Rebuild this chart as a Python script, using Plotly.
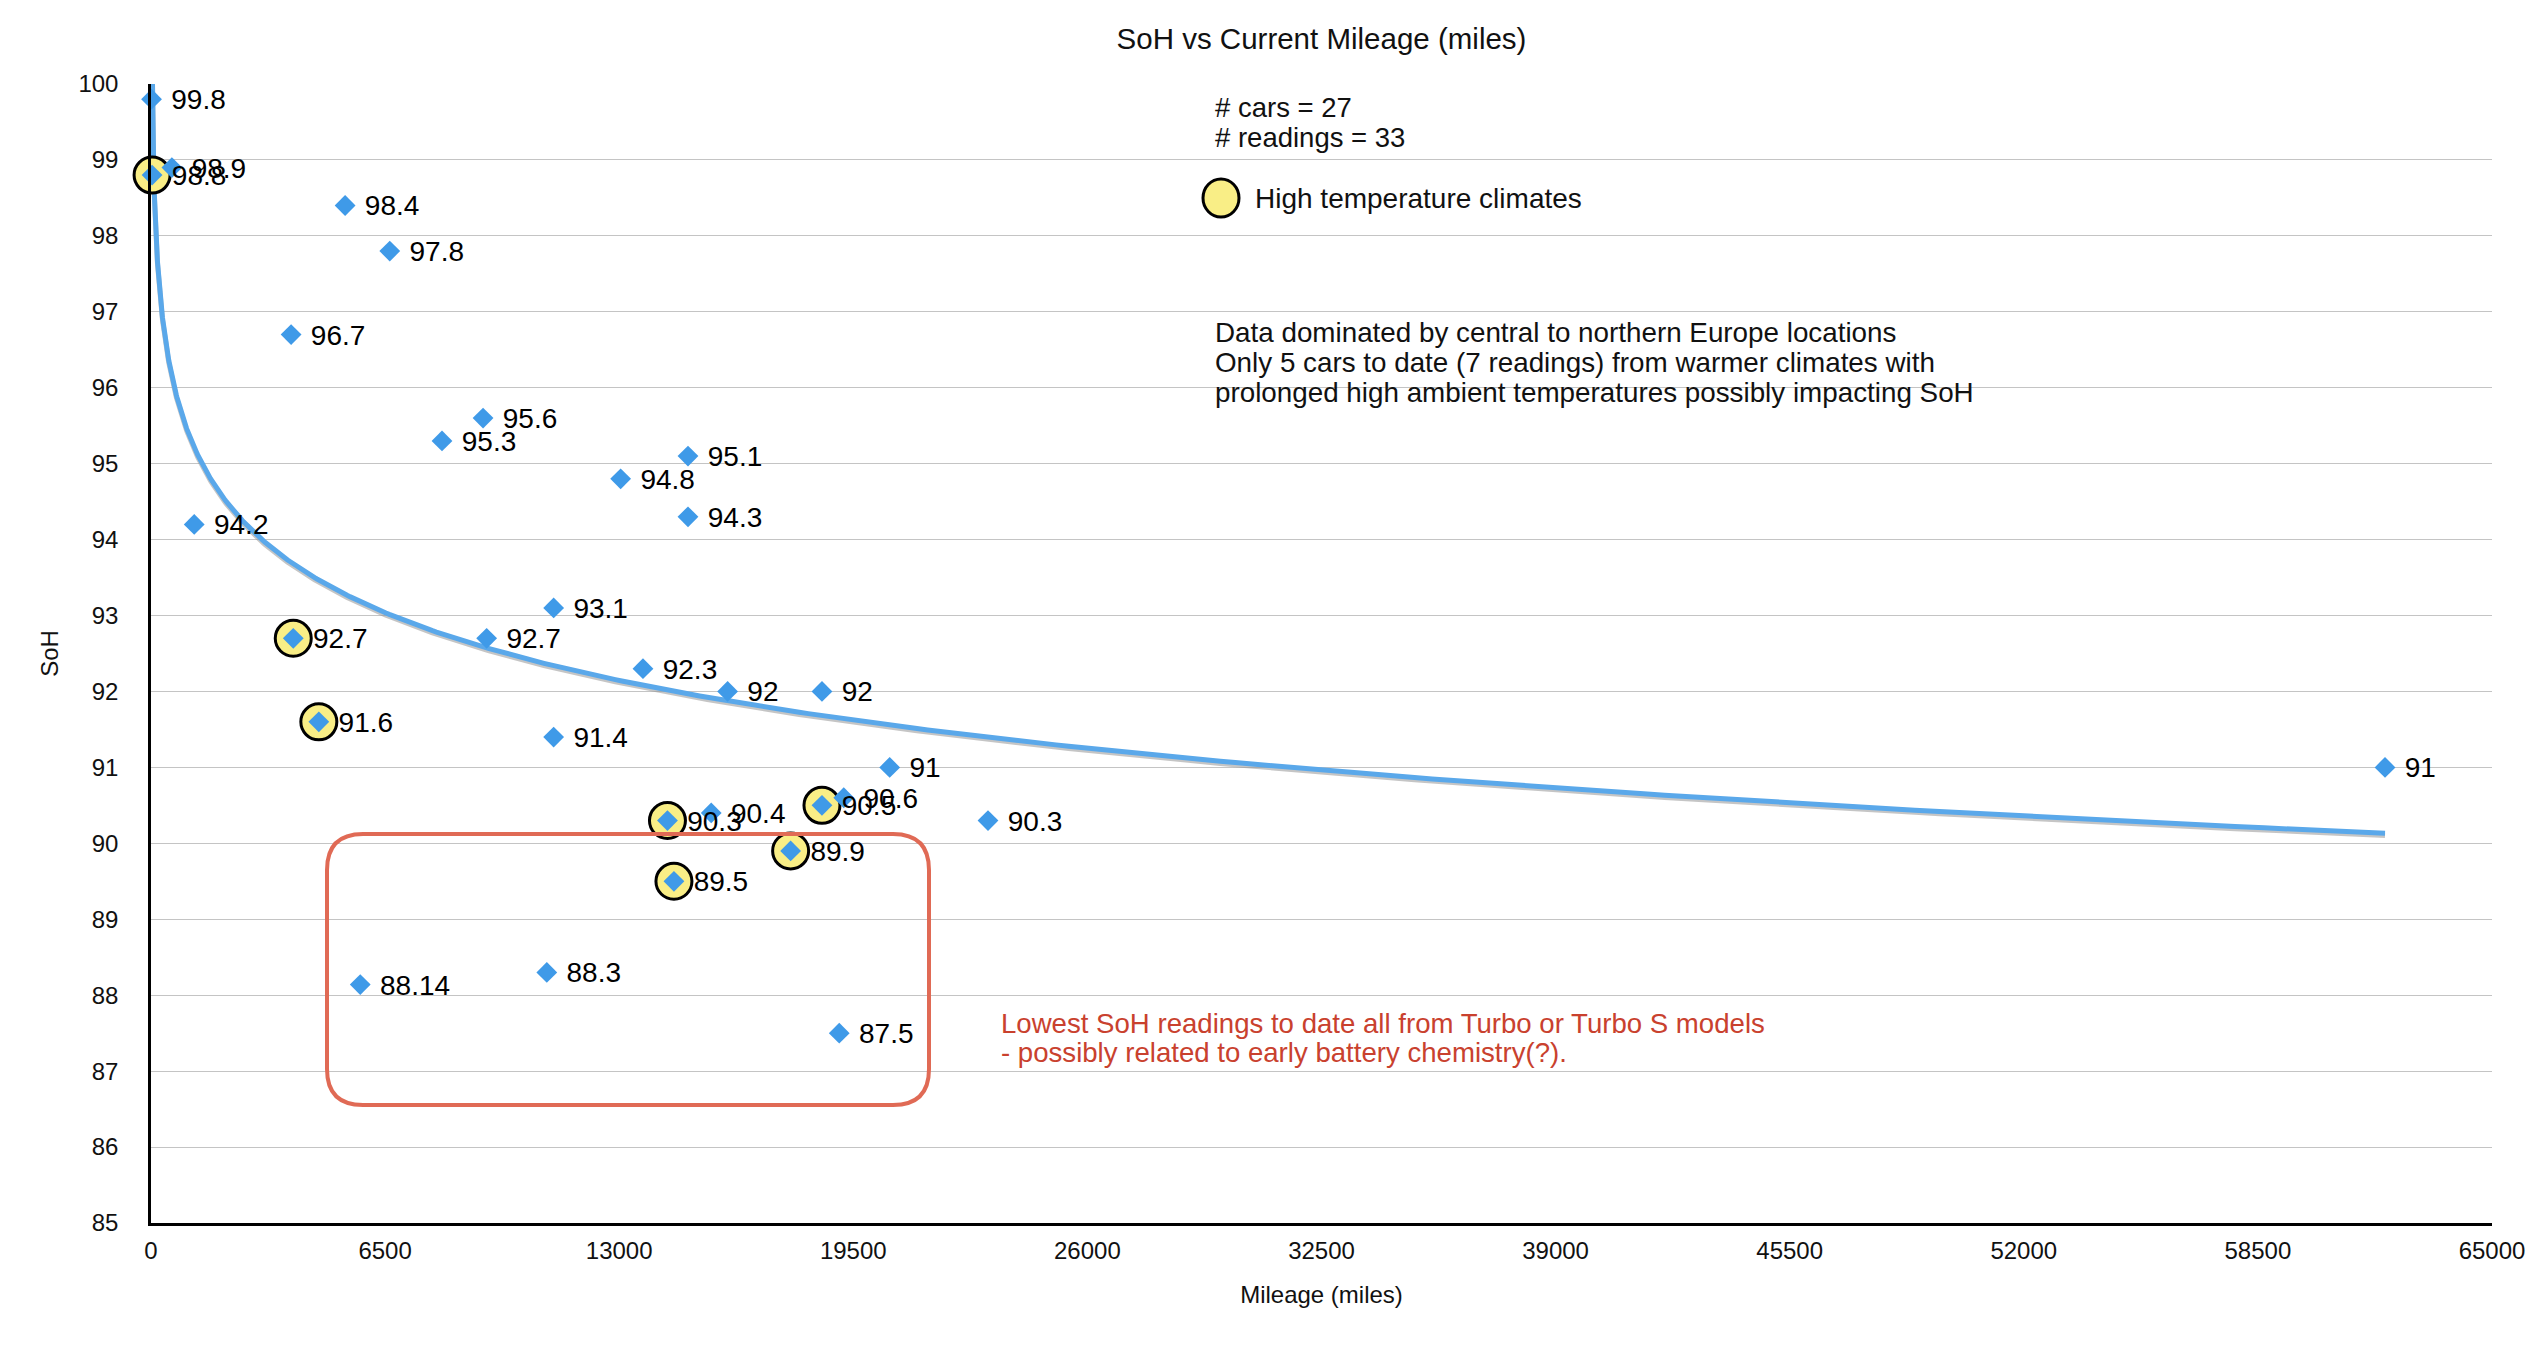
import numpy as np
import plotly.graph_objects as go

# ---------------- data ----------------
mileage = [15, 580, 30, 5390, 6630, 3890, 9220, 8080, 14910, 13040, 14910, 1200,
           11180, 3950, 9320, 13660, 16010, 18630, 4660, 11180, 20510, 19235,
           18630, 15555, 14340, 23240, 17760, 14520, 5810, 10990, 19110, 62030]
soh = [99.8, 98.9, 98.8, 98.4, 97.8, 96.7, 95.6, 95.3, 95.1, 94.8, 94.3, 94.2,
       93.1, 92.7, 92.7, 92.3, 92, 92, 91.6, 91.4, 91, 90.6,
       90.5, 90.4, 90.3, 90.3, 89.9, 89.5, 88.14, 88.3, 87.5, 91]
high_temp = [0, 0, 1, 0, 0, 0, 0, 0, 0, 0, 0, 0,
             0, 1, 0, 0, 0, 0, 1, 0, 0, 0,
             1, 0, 1, 0, 1, 1, 0, 0, 0, 0]
labels = [f"{v:g}" for v in soh]

x_ticks = [0, 6500, 13000, 19500, 26000, 32500, 39000, 45500, 52000, 58500, 65000]
y_ticks = list(range(85, 101))

title_text = "SoH vs Current Mileage (miles)"
x_title = "Mileage (miles)"
y_title = "SoH"
info_lines = ["# cars = 27", "# readings = 33"]
legend_text = "High temperature climates"
note_lines = ["Data dominated by central to northern Europe locations",
              "Only 5 cars to date (7 readings) from warmer climates with",
              "prolonged high ambient temperatures possibly impacting SoH"]
red_lines = ["Lowest SoH readings to date all from Turbo or Turbo S models",
             "- possibly related to early battery chemistry(?)."]

# ---------------- layout constants ----------------
W, H = 2546, 1350
ML, MR, MT, MB = 151, 54, 84, 127
X_RANGE = [0, 65000]
Y_RANGE = [85, 100]
FONT = "Liberation Sans, Arial, Helvetica, sans-serif"
BLUE = "#3F9AE8"
TREND = "#5AA8EA"
YELLOW = "#F9EE86"
RED_TXT = "#C9412E"
RED_BOX = "#E06A55"

px_per_x = (W - ML - MR) / (X_RANGE[1] - X_RANGE[0])
px_per_y = (H - MT - MB) / (Y_RANGE[1] - Y_RANGE[0])

# ---------------- trend line (log fit of the data) ----------------
mx = np.array(mileage, dtype=float)
my = np.array(soh, dtype=float)
b, a = np.polyfit(np.log(mx), my, 1)
tx = np.geomspace(mx.min(), mx.max(), 600)
ty = a + b * np.log(tx)

fig = go.Figure()

fig.add_trace(go.Scatter(x=tx, y=ty - 2.2 / px_per_y, mode="lines",
                         line=dict(color="rgba(150,150,150,0.55)", width=5),
                         hoverinfo="skip", showlegend=False))
fig.add_trace(go.Scatter(x=tx, y=ty, mode="lines",
                         line=dict(color=TREND, width=5),
                         hoverinfo="skip", showlegend=False))

hx = [m for m, h in zip(mileage, high_temp) if h]
hy = [s for s, h in zip(soh, high_temp) if h]
fig.add_trace(go.Scatter(x=hx, y=hy, mode="markers", cliponaxis=False,
                         marker=dict(symbol="circle", size=36, color=YELLOW,
                                     line=dict(color="black", width=3)),
                         hoverinfo="skip", showlegend=False))

fig.add_trace(go.Scatter(x=mileage, y=soh, mode="markers", cliponaxis=False,
                         marker=dict(symbol="diamond", size=16, color=BLUE,
                                     line=dict(width=0)),
                         showlegend=False))

# value labels (nudged 3 px down so they sit centred on the diamonds)
label_y = [s - 3 / px_per_y for s in soh]
fig.add_trace(go.Scatter(x=mileage, y=label_y, mode="markers+text", cliponaxis=False,
                         text=labels, textposition="middle right",
                         textfont=dict(family=FONT, size=28, color="black"),
                         marker=dict(size=30, color="rgba(0,0,0,0)"),
                         hoverinfo="skip", showlegend=False))


def to_x(px):
    return X_RANGE[0] + (px - ML) / px_per_x


def to_y(py):
    return Y_RANGE[1] - (py - MT) / px_per_y


annotations = []
for txt, py in zip(info_lines, [107, 137]):
    annotations.append(dict(x=to_x(1213), y=to_y(py), text=txt, showarrow=False,
                            xanchor="left", yanchor="middle",
                            font=dict(family=FONT, size=27.5, color="#111")))
annotations.append(dict(x=to_x(1253), y=to_y(198), text=legend_text, showarrow=False,
                        xanchor="left", yanchor="middle",
                        font=dict(family=FONT, size=28, color="#111")))
for txt, py in zip(note_lines, [332, 362, 392]):
    annotations.append(dict(x=to_x(1213), y=to_y(py), text=txt, showarrow=False,
                            xanchor="left", yanchor="middle",
                            font=dict(family=FONT, size=27.8, color="#111")))
for txt, py in zip(red_lines, [1023, 1052]):
    annotations.append(dict(x=to_x(999), y=to_y(py), text=txt, showarrow=False,
                            xanchor="left", yanchor="middle",
                            font=dict(family=FONT, size=27.6, color=RED_TXT)))

# rounded rectangle
bx0, bx1 = to_x(327), to_x(929)
by1, by0 = to_y(834), to_y(1105)
rx, ry = 36 / px_per_x, 36 / px_per_y
path = (f"M {bx0+rx},{by1} L {bx1-rx},{by1} Q {bx1},{by1} {bx1},{by1-ry} "
        f"L {bx1},{by0+ry} Q {bx1},{by0} {bx1-rx},{by0} "
        f"L {bx0+rx},{by0} Q {bx0},{by0} {bx0},{by0+ry} "
        f"L {bx0},{by1-ry} Q {bx0},{by1} {bx0+rx},{by1} Z")

shapes = [
    dict(type="path", path=path, xref="x", yref="y",
         line=dict(color=RED_BOX, width=4), layer="above"),
    dict(type="circle", xref="x", yref="y", xsizemode="pixel", ysizemode="pixel",
         xanchor=to_x(1221), yanchor=to_y(198), x0=-18, x1=18, y0=-19, y1=19,
         fillcolor=YELLOW, line=dict(color="black", width=3)),
]

fig.update_layout(
    width=W, height=H,
    margin=dict(l=ML, r=MR, t=MT, b=MB),
    paper_bgcolor="white", plot_bgcolor="white",
    title=dict(text=title_text, x=(ML + (W - ML - MR) / 2) / W, xanchor="center",
               y=1 - 39 / H, yanchor="middle",
               font=dict(family=FONT, size=29.5, color="#111")),
    font=dict(family=FONT, color="#111"),
    annotations=annotations, shapes=shapes,
    showlegend=False,
)
fig.update_xaxes(range=X_RANGE, tickvals=x_ticks, ticktext=[str(t) for t in x_ticks],
                 showgrid=False, zeroline=False, showline=True, linecolor="black",
                 linewidth=3, ticks="", ticklabelstandoff=4,
                 tickfont=dict(family=FONT, size=24, color="#111"),
                 title=dict(text=x_title, standoff=24,
                            font=dict(family=FONT, size=24, color="#111")))
fig.update_yaxes(range=Y_RANGE, tickvals=y_ticks, ticktext=[str(t) for t in y_ticks],
                 showgrid=True, gridcolor="#C4C4C4", gridwidth=1.3, zeroline=False,
                 showline=True, linecolor="black", linewidth=2.5, ticks="",
                 ticklabelstandoff=25,
                 tickfont=dict(family=FONT, size=24, color="#111"),
                 title=dict(text=y_title, standoff=14,
                            font=dict(family=FONT, size=24, color="#111")))

fig.write_html("out.html")
